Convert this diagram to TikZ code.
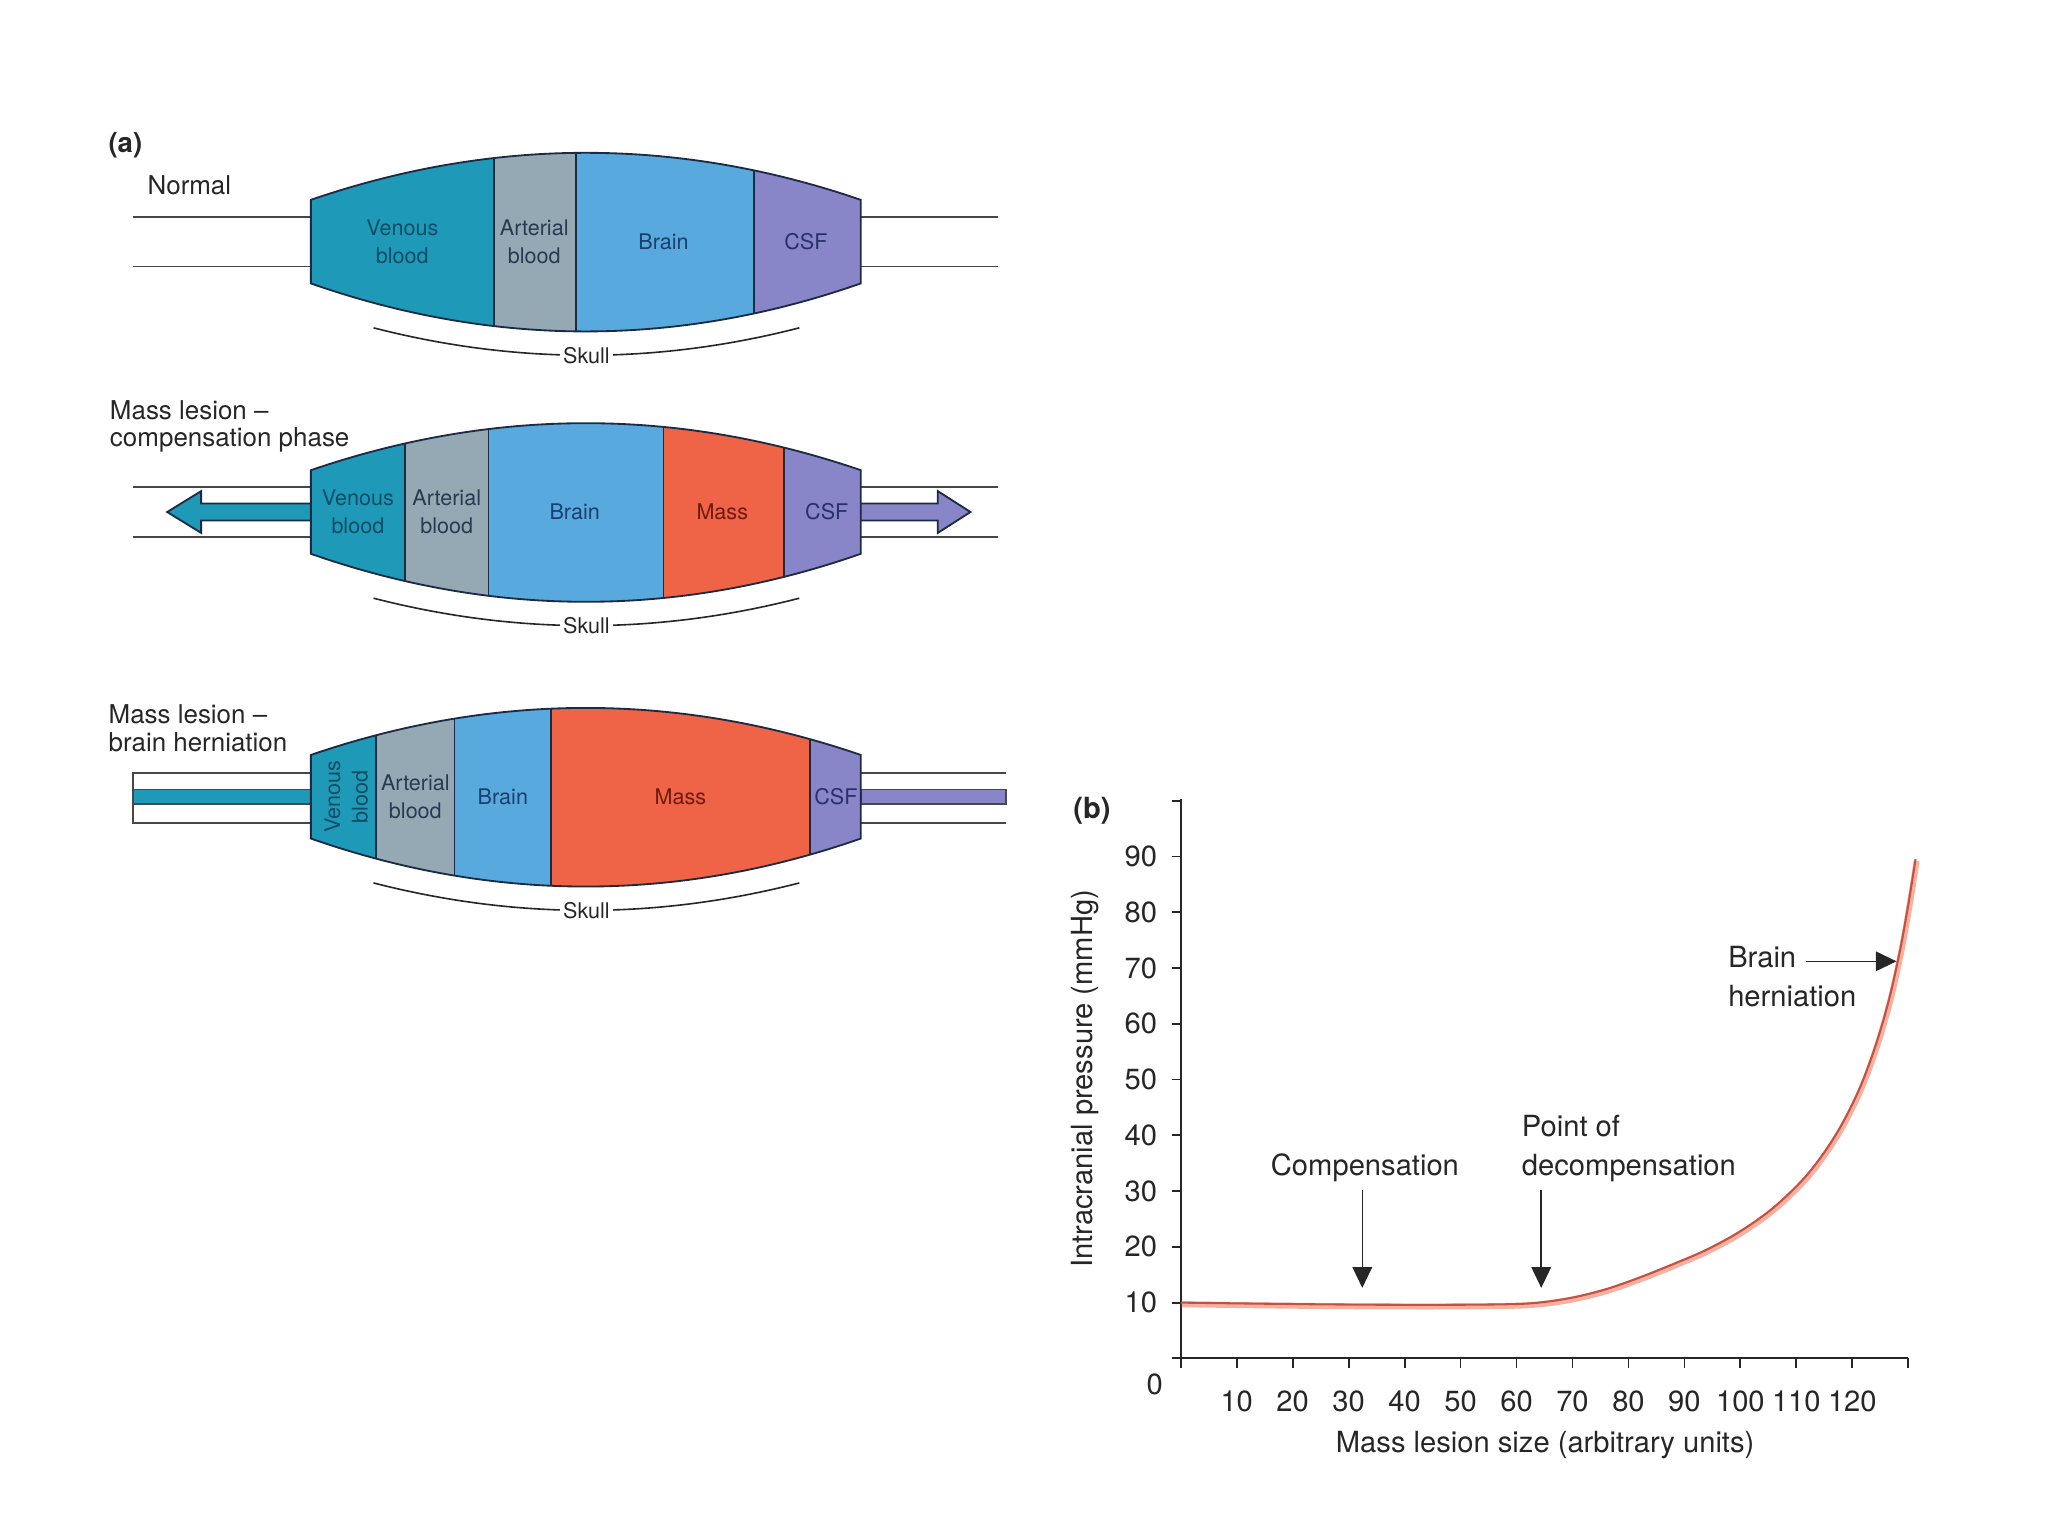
\documentclass[tikz,border=0pt]{standalone}
\usepackage{fontspec}
\setmainfont{TeX Gyre Heros}
\usepackage{tikz}
\usetikzlibrary{arrows.meta}

\definecolor{venous}{HTML}{1E9AB8}
\definecolor{arterial}{HTML}{95A9B5}
\definecolor{brain}{HTML}{58A9DD}
\definecolor{mass}{HTML}{EF6446}
\definecolor{csf}{HTML}{8886C8}
\definecolor{outl}{HTML}{1C2B42}
\definecolor{venoustext}{HTML}{0F4C66}
\definecolor{arterialtext}{HTML}{263B52}
\definecolor{braintext}{HTML}{1D3E6E}
\definecolor{masstext}{HTML}{6E1A10}
\definecolor{csftext}{HTML}{2A2F6A}
\definecolor{ink}{HTML}{262626}
\definecolor{glow}{HTML}{F6B0A2}
\definecolor{curve}{HTML}{C4513F}

\tikzset{
  seg/.style={draw=outl, line width=0.8pt},
  tube/.style={draw=ink!85, line width=0.7pt},
  lbl/.style={font=\fontsize{9.4}{12}\selectfont, align=center, inner sep=1pt},
  title/.style={font=\fontsize{11.3}{12}\selectfont, text=ink, align=left},
  tag/.style={font=\fontsize{12}{14}\bfseries, text=ink},
  skull/.style={draw=ink, line width=0.7pt},
  skulltag/.style={font=\fontsize{9.4}{12}\selectfont, text=ink, fill=white, inner sep=1.5pt},
  num/.style={font=\fontsize{12.7}{17}\selectfont, text=ink, align=left},
  axis/.style={draw=ink, line width=0.8pt},
  ptr/.style={draw=ink, line width=0.7pt, -{Triangle[length=9pt,width=8.5pt]}}
}

\newcommand{\lensshape}{(238,153) .. controls (378,105) and (519,105) .. (659,153) -- (659,217) .. controls (519,266) and (378,266) .. (238,217) -- cycle}
\newcommand{\icpdata}{(0,10) (15,9.8) (30,9.65) (45,9.6) (58,9.7) (64,10) (70,10.9) (76,12.4) (82,14.5) (88,16.9) (94,19.5) (100,22.8) (106,27.1) (112,33) (117,40) (121,47.7) (124,55.6) (126.5,64.1) (128.5,73) (130,81.3) (131.3,89.5)}

\begin{document}
\begin{tikzpicture}[x=0.02cm, y=-0.02cm]
\useasboundingbox (0,0) rectangle (1568,1176);

% (a) normal
\node[tag] (a) at (96,111) {(a)};
\node[title] (normal) at (145,142) {Normal};
\draw[tube] (102,166) -- (238,166);
\draw[tube] (102,204) -- (238,204);
\draw[tube] (659,166) -- (764,166);
\draw[tube] (659,204) -- (764,204);
\begin{scope}
  \clip \lensshape;
  \fill[venous] (238,100) rectangle (378,270);
  \fill[arterial] (378,100) rectangle (441,270);
  \fill[brain] (441,100) rectangle (577,270);
  \fill[csf] (577,100) rectangle (670,270);
  \draw[seg] (378,100) -- (378,270);
  \draw[seg] (441,100) -- (441,270);
  \draw[seg] (577,100) -- (577,270);
\end{scope}
\draw[seg] \lensshape;
\node[lbl, text=venoustext] (ven1) at (308,185) {Venous\\blood};
\node[lbl, text=arterialtext] (art1) at (409,185) {Arterial\\blood};
\node[lbl, text=braintext] (brain1) at (508,185) {Brain};
\node[lbl, text=csftext] (csf1) at (617,185) {CSF};
\draw[skull] (286,251) .. controls (395,279) and (503,279) .. (612,251) node[midway, skulltag] (skull1) {Skull};

% (a) compensation phase
\node[title, anchor=west] (comptitle) at (78,326.5) {Mass lesion --\\compensation phase};
\begin{scope}[shift={(0,207)}]
  \draw[tube] (102,166) -- (238,166);
  \draw[tube] (102,204) -- (238,204);
  \draw[tube] (659,166) -- (764,166);
  \draw[tube] (659,204) -- (764,204);
  \draw[seg, fill=venous] (238,178.5) -- (154,178.5) -- (154,169) -- (128,185) -- (154,201) -- (154,191.5) -- (238,191.5);
  \draw[seg, fill=csf] (659,178.5) -- (718,178.5) -- (718,169) -- (743,185) -- (718,201) -- (718,191.5) -- (659,191.5);
  \begin{scope}
    \clip \lensshape;
    \fill[venous] (200,100) rectangle (310,270);
    \fill[arterial] (310,100) rectangle (374,270);
    \fill[brain] (374,100) rectangle (508,270);
    \fill[mass] (508,100) rectangle (600,270);
    \fill[csf] (600,100) rectangle (670,270);
    \draw[seg] (310,100) -- (310,270);
    \draw[seg] (374,100) -- (374,270);
    \draw[seg] (508,100) -- (508,270);
    \draw[seg] (600,100) -- (600,270);
  \end{scope}
  \draw[seg] \lensshape;
  \node[lbl, text=venoustext] (ven2) at (274,185) {Venous\\blood};
  \node[lbl, text=arterialtext] (art2) at (342,185) {Arterial\\blood};
  \node[lbl, text=braintext] (brain2) at (440,185) {Brain};
  \node[lbl, text=masstext] (mass2) at (553,185) {Mass};
  \node[lbl, text=csftext] (csf2) at (633,185) {CSF};
  \draw[skull] (286,251) .. controls (395,279) and (503,279) .. (612,251) node[midway, skulltag] (skull2) {Skull};
\end{scope}

% (a) brain herniation
\node[title, anchor=west] (herntitle) at (77,557.5) {Mass lesion --\\brain herniation};
\begin{scope}[shift={(0,425)}]
  \draw[tube] (102,167) rectangle (238,205);
  \draw[tube, fill=venous] (102,179.5) rectangle (238,190.5);
  \draw[tube] (659,167) -- (770,167);
  \draw[tube] (659,205) -- (770,205);
  \draw[tube, fill=csf] (659,179.5) rectangle (770,190.5);
  \begin{scope}
    \clip \lensshape;
    \fill[venous] (200,100) rectangle (288,270);
    \fill[arterial] (288,100) rectangle (348,270);
    \fill[brain] (348,100) rectangle (422,270);
    \fill[mass] (422,100) rectangle (620,270);
    \fill[csf] (620,100) rectangle (670,270);
    \draw[seg] (288,100) -- (288,270);
    \draw[seg] (348,100) -- (348,270);
    \draw[seg] (422,100) -- (422,270);
    \draw[seg] (620,100) -- (620,270);
  \end{scope}
  \draw[seg] \lensshape;
  \node[lbl, text=venoustext, rotate=90] (ven3) at (265,185) {Venous\\blood};
  \node[lbl, text=arterialtext] (art3) at (318,185) {Arterial\\blood};
  \node[lbl, text=braintext] (brain3) at (385,185) {Brain};
  \node[lbl, text=masstext] (mass3) at (521,185) {Mass};
  \node[lbl, text=csftext] (csf3) at (640,185) {CSF};
  \draw[skull] (286,251) .. controls (395,279) and (503,279) .. (612,251) node[midway, skulltag] (skull3) {Skull};
\end{scope}

% (b) pressure curve
\node[num, font=\fontsize{12.7}{17}\bfseries] (b) at (836,621) {(b)};
\draw[axis] (904,612) -- (904,1040) -- (1461,1040);
\foreach \p in {0,10,...,100}
  \draw[axis] (897,{1040-4.27*\p}) -- (904,{1040-4.27*\p});
\foreach \m in {0,10,...,130}
  \draw[axis] ({904+4.2846*\m},1040) -- ({904+4.2846*\m},1047);
\foreach \p in {10,20,...,90}
  \node[num, anchor=east] (y\p) at (892,{1040-4.27*\p}) {\p};
\foreach \m in {10,20,...,120}
  \node[num] (x\m) at ({904+4.2846*\m},1073) {\m};
\node[num] (y0) at (884,1060) {0};
\node[num, rotate=90] (ylab) at (831,826) {Intracranial pressure (mmHg)};
\node[num] (xlab) at (1183,1106) {Mass lesion size (arbitrary units)};

\begin{scope}[shift={(904,1040)}, xscale=4.2846, yscale=-4.27]
  \draw[glow, line width=2.6pt, shift={(0.2,-0.3)}] plot[smooth, tension=0.55] coordinates {\icpdata};
  \draw[curve, line width=0.9pt] plot[smooth, tension=0.55] coordinates {\icpdata};
\end{scope}

\node[num] (comp) at (1045,894) {Compensation};
\coordinate (comptip) at (1043,986);
\draw[ptr] (comp.south -| comptip) -- (comptip);
\node[num, anchor=west] (decomp) at (1159,879) {Point of\\decompensation};
\coordinate (decomptip) at (1180,986);
\draw[ptr] (decomptip |- comp.south) -- (decomptip);
\node[num, anchor=west] (hern) at (1317,748) {Brain\\herniation};
\coordinate (hernfrom) at (1383,736);
\coordinate (herntip) at (1452,736);
\draw[ptr] (hernfrom) -- (herntip);
\end{tikzpicture}
\end{document}
